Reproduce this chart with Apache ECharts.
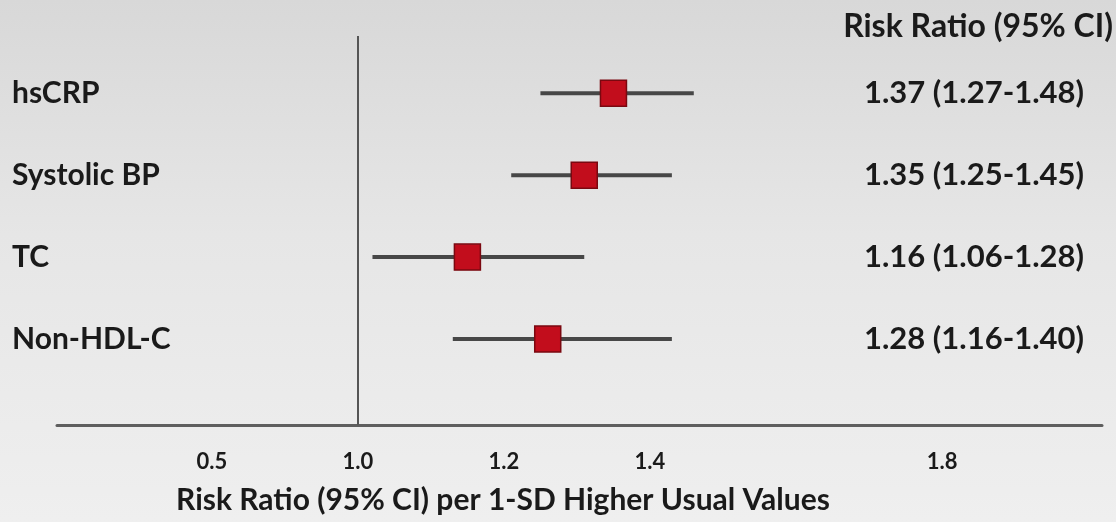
<!DOCTYPE html>
<html>
<head>
<meta charset="utf-8">
<script src="https://cdn.jsdelivr.net/npm/echarts@6/dist/echarts.min.js"></script>
<style>
  html, body { margin: 0; padding: 0; }
  #chart { width: 1116px; height: 522px; background: linear-gradient(180deg, #d8d8d8 0%, #e6e6e6 45%, #efefef 100%); }
</style>
</head>
<body>
<div id="chart"></div>
<script>
// ---- data ----
const categories = ['hsCRP', 'Systolic BP', 'TC', 'Non-HDL-C'];
const estimates  = [1.35, 1.31, 1.15, 1.26];   // marker positions
const ciLow      = [1.25, 1.21, 1.02, 1.13];
const ciHigh     = [1.46, 1.43, 1.31, 1.43];
const ciText     = ['1.37 (1.27-1.48)', '1.35 (1.25-1.45)', '1.16 (1.06-1.28)', '1.28 (1.16-1.40)'];
const tickValues = [0.8, 1.0, 1.2, 1.4, 1.8];   // drawn positions of the ticks
const tickLabels = ['0.5', '1.0', '1.2', '1.4', '1.8'];
const refValue   = 1.0;

const FONT = 'Lato';
const TXT = '#1a1a1a';
const rows = categories.map((c, i) => i);

const chart = echarts.init(document.getElementById('chart'), null, { renderer: 'canvas' });

const ciData = categories.map((c, i) => [ciLow[i], ciHigh[i], i]);
const ptData = categories.map((c, i) => [estimates[i], i]);

chart.setOption({
  backgroundColor: 'transparent',
  animation: false,
  title: [
    {
      text: 'Risk Ratio (95% CI)',
      right: 3, top: 11, padding: 0,
      textStyle: { fontFamily: FONT, fontWeight: 'bold', fontSize: 32, color: TXT }
    }
  ],
  graphic: [
    {
      type: 'text',
      x: 503, y: 500,
      style: {
        text: 'Risk Ratio (95% CI) per 1-SD Higher Usual Values',
        fontFamily: FONT, fontWeight: 'bold', fontSize: 30, fill: TXT,
        textAlign: 'center', textVerticalAlign: 'middle'
      }
    }
  ],
  grid: { left: 57, right: 14, top: 36, bottom: 97, containLabel: false },
  xAxis: {
    type: 'value',
    min: 0.588, max: 2.019,
    axisLine: { show: true, onZero: false, lineStyle: { color: '#5e5e5e', width: 3 } },
    axisTick: { show: false },
    splitLine: { show: false },
    axisLabel: {
      customValues: tickValues,
      formatter: v => {
        const i = tickValues.findIndex(t => Math.abs(t - v) < 1e-6);
        return i >= 0 ? tickLabels[i] : '';
      },
      margin: 26,
      fontFamily: FONT, fontWeight: 'bold', fontSize: 22, color: TXT
    }
  },
  yAxis: [
    {
      type: 'value', inverse: true, min: -0.7, max: 4.05,
      position: 'left',
      axisLine: { show: false }, axisTick: { show: false }, splitLine: { show: false },
      axisLabel: {
        customValues: rows,
        formatter: v => categories[Math.round(v)] || '',
        align: 'left', margin: 45,
        fontFamily: FONT, fontWeight: 'bold', fontSize: 30, color: TXT
      }
    },
    {
      type: 'value', inverse: true, min: -0.7, max: 4.05,
      position: 'right',
      axisLine: { show: false }, axisTick: { show: false }, splitLine: { show: false },
      axisLabel: {
        customValues: rows,
        formatter: v => ciText[Math.round(v)] || '',
        align: 'center', margin: -128,
        fontFamily: FONT, fontWeight: 'bold', fontSize: 31, color: TXT
      }
    }
  ],
  series: [
    {
      type: 'custom',
      name: 'CI',
      yAxisIndex: 0,
      data: ciData,
      renderItem: (params, api) => {
        const p1 = api.coord([api.value(0), api.value(2)]);
        const p2 = api.coord([api.value(1), api.value(2)]);
        return {
          type: 'line',
          shape: { x1: p1[0], y1: p1[1], x2: p2[0], y2: p2[1] },
          style: { stroke: '#474747', lineWidth: 4 }
        };
      },
      encode: { x: [0, 1], y: 2 },
      z: 2
    },
    {
      type: 'scatter',
      name: 'Risk Ratio',
      yAxisIndex: 0,
      data: ptData,
      symbol: 'rect',
      symbolSize: 26,
      itemStyle: { color: '#c20d1c', borderColor: '#7a0810', borderWidth: 1.5, opacity: 1 },
      z: 3,
      markLine: {
        silent: true,
        symbol: ['none', 'none'],
        label: { show: false },
        lineStyle: { color: '#555', width: 2, type: 'solid' },
        data: [{ xAxis: refValue }]
      }
    }
  ]
});
</script>
</body>
</html>
